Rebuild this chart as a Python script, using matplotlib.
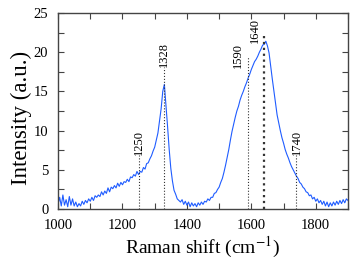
import numpy as np
import matplotlib
matplotlib.use("Agg")
import matplotlib.pyplot as plt
from matplotlib.ticker import MultipleLocator

# Raman spectrum, every 5 cm^-1
shift = np.arange(1000, 1905, 5)
intensity = [
    0.6, 1.5, 0.4, 1.8, 0.5, 1.2, 0.3, 1.6, 0.5, 1.3, 0.4, 0.9, 0.3, 0.7, 0.4, 1.0, 0.6, 1.1, 0.8, 1.3,
    1.0, 1.5, 1.1, 1.7, 1.5, 1.8, 1.6, 2.2, 1.8, 2.3, 2.0, 2.7, 2.2, 2.8, 2.6, 3.0, 2.7, 3.3, 2.9, 3.4,
    3.1, 3.5, 3.4, 3.8, 3.5, 4.1, 4.0, 4.4, 4.2, 4.8, 4.4, 4.8, 4.7, 5.3, 5.1, 5.8, 5.9, 6.4, 6.8, 7.4,
    7.9, 8.8, 9.7, 11.2, 12.8, 15.0, 15.9, 13.2, 10.5, 7.6, 5.2, 3.6, 2.4, 1.9, 1.3, 1.1, 0.9, 1.2, 0.6, 1.0,
    0.5, 0.9, 0.3, 0.8, 0.4, 0.7, 0.3, 0.8, 0.5, 0.9, 0.6, 1.0, 0.9, 1.3, 1.1, 1.5, 1.5, 2.0, 2.1, 2.5,
    2.8, 3.4, 3.9, 4.7, 5.6, 6.6, 7.6, 8.8, 9.9, 10.8, 11.7, 12.5, 13.1, 13.9, 14.5, 15.0, 15.6, 16.1, 16.7, 17.2,
    17.8, 18.3, 18.8, 19.1, 19.5, 20.0, 20.4, 20.9, 21.0, 21.4, 20.8, 19.9, 18.2, 16.6, 15.1, 13.7, 12.0, 11.0, 10.0, 9.1,
    8.4, 7.6, 7.0, 6.5, 5.9, 5.4, 5.0, 4.6, 4.2, 3.9, 3.4, 3.2, 2.8, 2.6, 2.2, 2.1, 1.7, 1.8, 1.3, 1.5,
    1.0, 1.3, 0.8, 1.1, 0.6, 1.0, 0.4, 0.9, 0.3, 0.8, 0.4, 0.9, 0.5, 1.0, 0.6, 1.1, 0.7, 1.2, 0.8, 1.3,
    1.1,
]

# marked bands: position, top of dotted line, label x, label bottom
bands = [1250, 1328, 1590, 1640, 1740]
line_tops = [6.9, 18.1, 19.4, 22.5, 6.9]
label_x = [1250, 1328, 1557, 1610, 1740]
label_y = [6.9, 18.1, 18.0, 21.2, 6.9]
line_widths = [0.8, 0.8, 0.8, 1.6, 0.8]

plt.rcParams['font.family'] = ['Liberation Serif', 'DejaVu Serif']
plt.rcParams['mathtext.fontset'] = 'stix'

fig = plt.figure(figsize=(3.54, 2.65), dpi=100)
ax = fig.add_axes([0.164, 0.211, 0.819, 0.740])

ax.plot(shift, intensity, color='#1f5cff', lw=0.8)

for b, t, lx, ly, w in zip(bands, line_tops, label_x, label_y, line_widths):
    ax.vlines(b, 0, t, colors='#333333', linestyles=':', lw=w)
    ax.text(lx, ly, str(b), rotation=90, ha='center', va='bottom', fontsize=9)

ax.set_xlim(1000, 1900)
ax.set_ylim(0, 25)
ax.xaxis.set_major_locator(MultipleLocator(200))
ax.xaxis.set_minor_locator(MultipleLocator(100))
ax.yaxis.set_major_locator(MultipleLocator(5))
ax.yaxis.set_minor_locator(MultipleLocator(2.5))
ax.tick_params(which='both', direction='in', top=True, right=True, length=4,
               width=0.8, color='#444444', labelsize=10.5, pad=7)
for s in ax.spines.values():
    s.set_color('#444444')
    s.set_linewidth(1.0)

ax.set_xlabel('Raman shift (cm$^{-1}$)', fontsize=14, labelpad=2)
ax.set_ylabel('Intensity (a.u.)', fontsize=16.5)
ax.yaxis.set_label_coords(-0.09, 0.465)

fig.savefig('out.png', dpi=100)
